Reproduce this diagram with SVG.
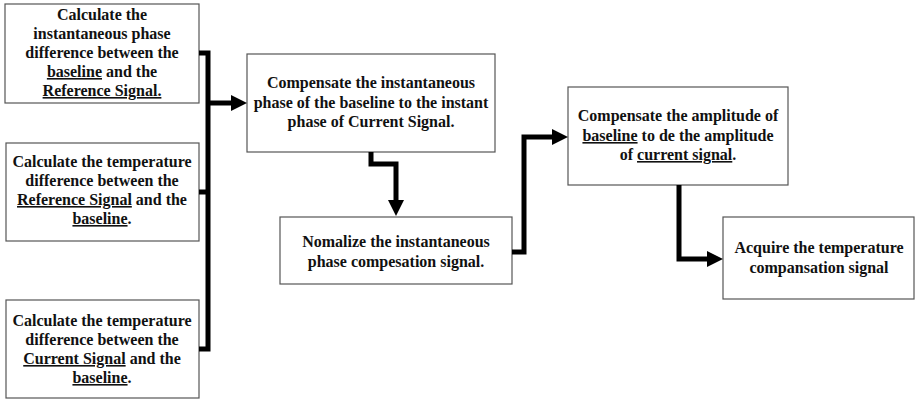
<svg xmlns="http://www.w3.org/2000/svg" width="916" height="401" viewBox="0 0 916 401">
<defs>
<style>
.box{fill:#fff;stroke:#555;stroke-width:1.2}
.t{font-family:"Liberation Serif","Times New Roman",serif;font-weight:bold;font-size:16px;fill:#111;text-anchor:middle}
.u{text-decoration:underline}
.c{fill:none;stroke:#000;stroke-width:5;stroke-linejoin:miter}
</style>
<marker id="ah" markerUnits="userSpaceOnUse" markerWidth="17" markerHeight="17" refX="6" refY="8" orient="auto">
<path d="M0,0 L16,8 L0,16 z" fill="#000"/>
</marker>
</defs>
<rect width="916" height="401" fill="#fff"/>
<g id="n1">
<rect class="box" x="5" y="4" width="194" height="99"/>
<text class="t" x="102" y="20">Calculate the</text>
<text class="t" x="102" y="39">instantaneous phase</text>
<text class="t" x="102" y="58">difference between the</text>
<text class="t" x="102" y="77"><tspan class="u">baseline</tspan> and the</text>
<text class="t" x="102" y="96"><tspan class="u">Reference Signal.</tspan></text>
</g>
<g id="n2">
<rect class="box" x="6" y="143" width="193" height="98"/>
<text class="t" x="102" y="167">Calculate the temperature</text>
<text class="t" x="102" y="186">difference between the</text>
<text class="t" x="102" y="205"><tspan class="u">Reference Signal</tspan> and the</text>
<text class="t" x="102" y="224"><tspan class="u">baseline</tspan>.</text>
</g>
<g id="n3">
<rect class="box" x="6" y="300" width="193" height="98"/>
<text class="t" x="102" y="326">Calculate the temperature</text>
<text class="t" x="102" y="345">difference between the</text>
<text class="t" x="102" y="364"><tspan class="u">Current Signal</tspan> and the</text>
<text class="t" x="102" y="383"><tspan class="u">baseline</tspan>.</text>
</g>
<g id="n4">
<rect class="box" x="247" y="54" width="248" height="98"/>
<text class="t" x="371" y="88">Compensate the instantaneous</text>
<text class="t" x="371" y="108">phase of the baseline to the instant</text>
<text class="t" x="371" y="127">phase of Current Signal.</text>
</g>
<g id="n5">
<rect class="box" x="280" y="217" width="232" height="67"/>
<text class="t" x="396" y="247">Nomalize the instantaneous</text>
<text class="t" x="396" y="267">phase compesation signal.</text>
</g>
<g id="n6">
<rect class="box" x="568" y="87" width="220" height="98"/>
<text class="t" x="678" y="121">Compensate the amplitude of</text>
<text class="t" x="678" y="141"><tspan class="u">baseline</tspan> to de the amplitude</text>
<text class="t" x="678" y="160">of <tspan class="u">current signal</tspan>.</text>
</g>
<g id="n7">
<rect class="box" x="723" y="217" width="191" height="82"/>
<text class="t" x="819" y="253">Acquire the temperature</text>
<text class="t" x="819" y="273">compansation signal</text>
</g>
<g id="connectors">
<path class="c" d="M199,53 H208 V349 H199"/>
<path class="c" d="M199,192 H208"/>
<path class="c" d="M208,103 H237" marker-end="url(#ah)"/>
<path class="c" d="M371,152 V164 H396 V206" marker-end="url(#ah)"/>
<path class="c" d="M512,252 H524 V137 H558" marker-end="url(#ah)"/>
<path class="c" d="M679,185 V259 H713" marker-end="url(#ah)"/>
</g>
</svg>
